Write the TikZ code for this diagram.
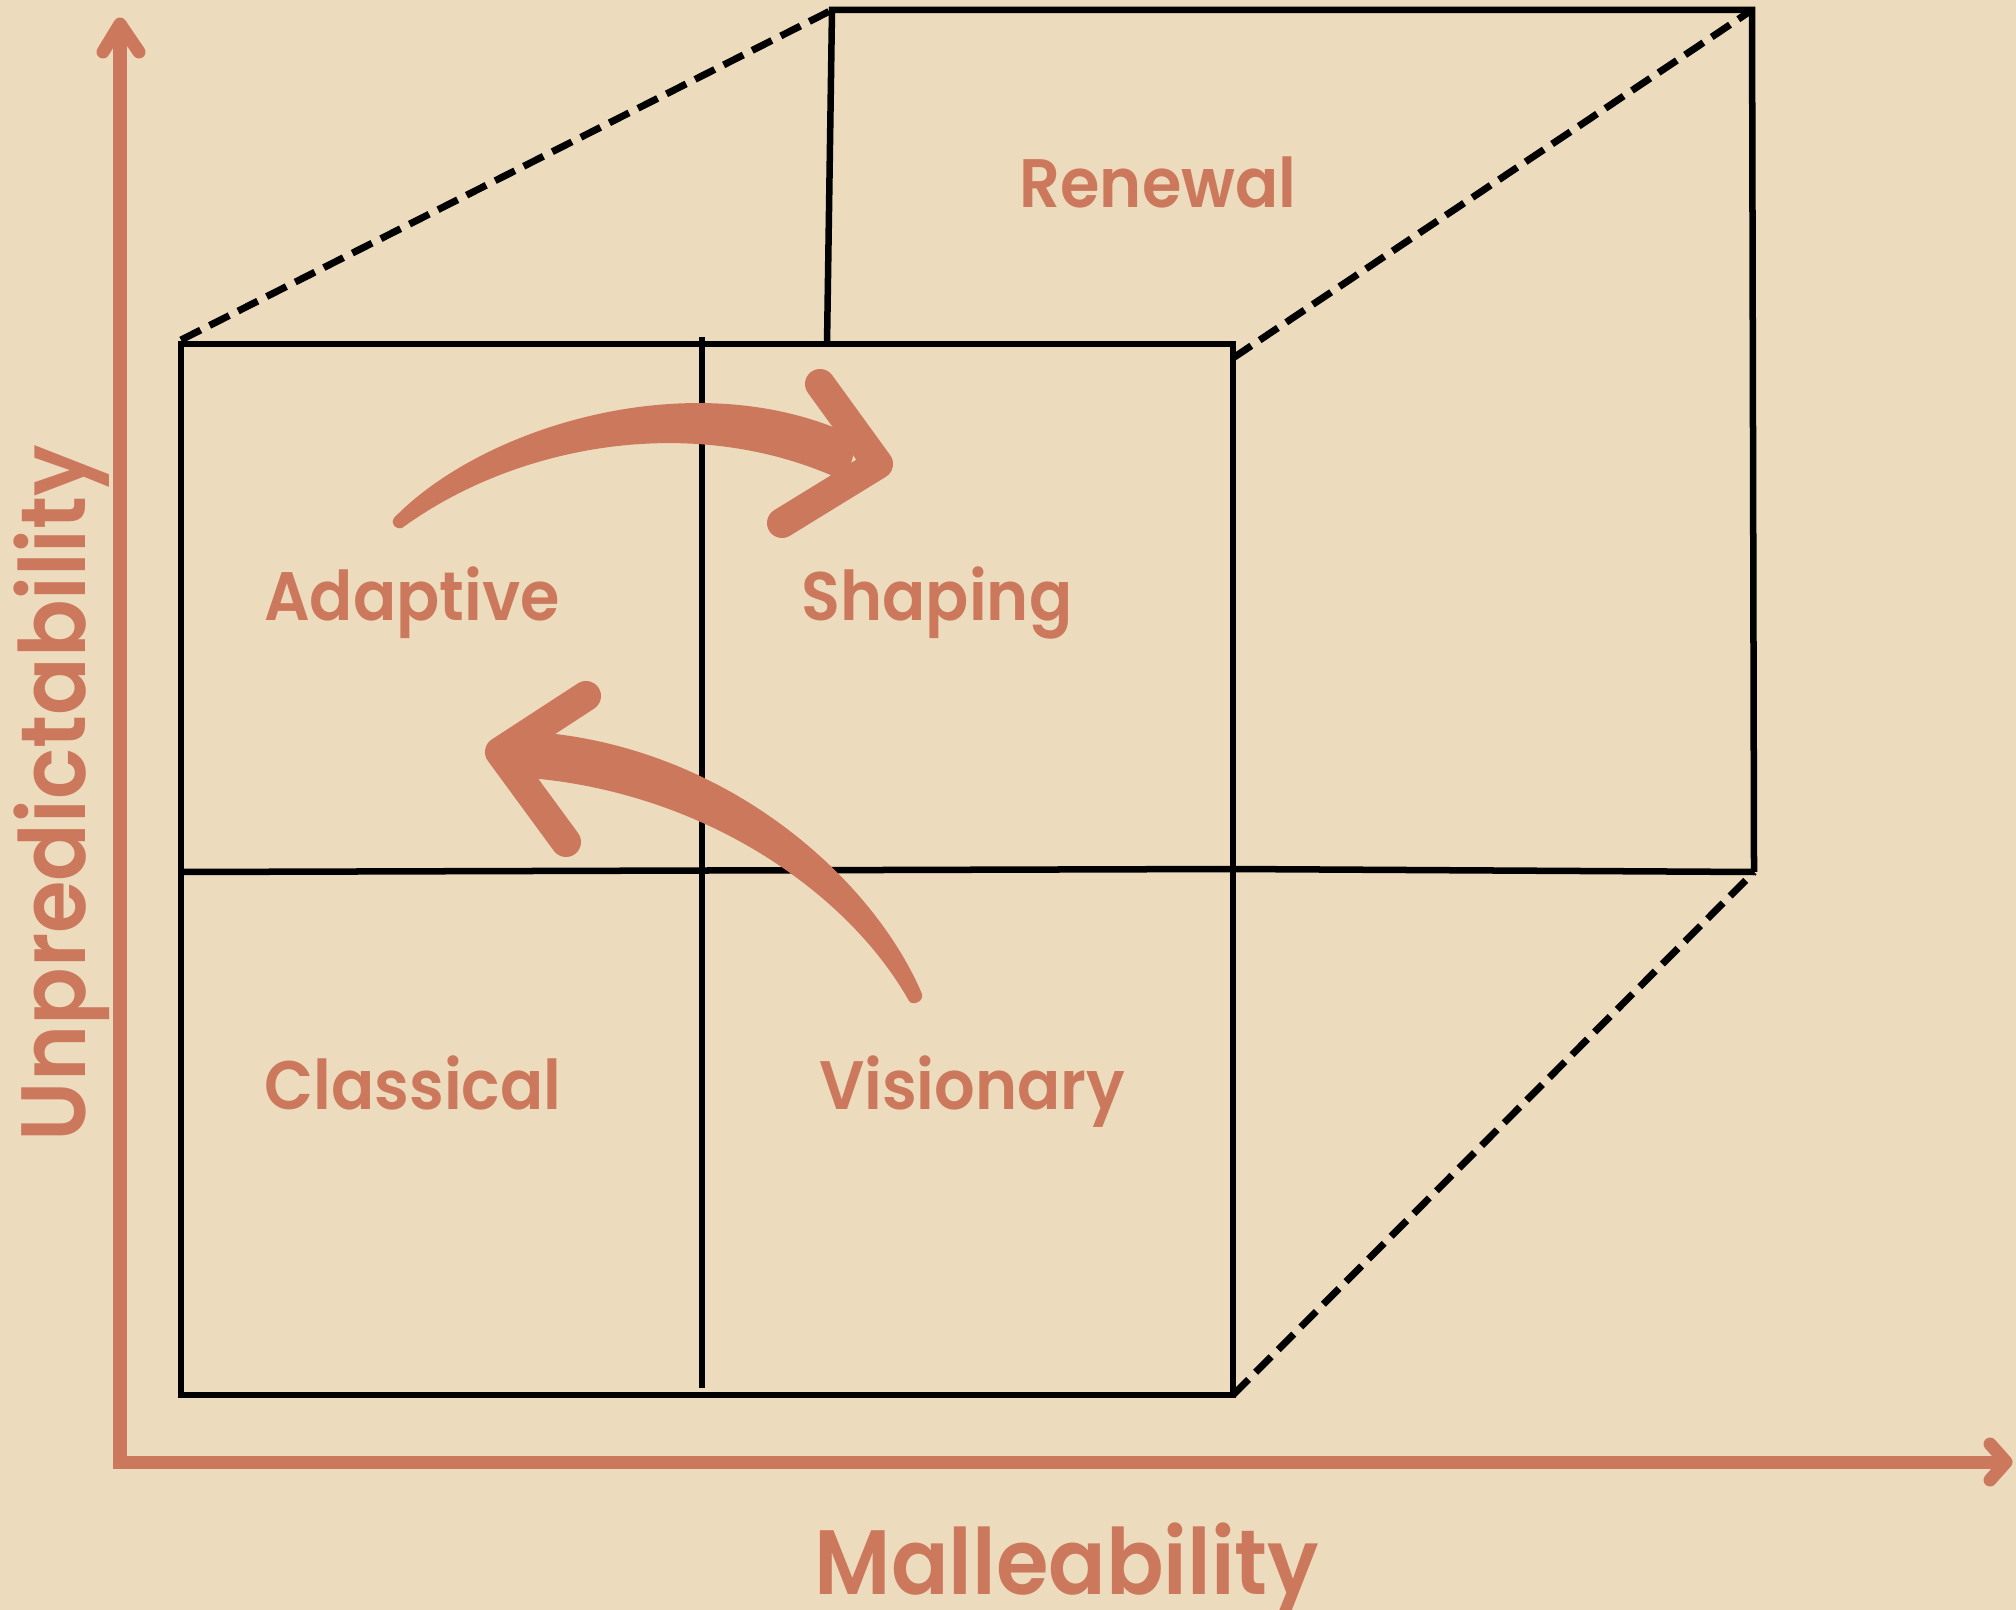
\documentclass[tikz,border=0pt]{standalone}
\usepackage{fontspec}
\setmainfont{Poppins}[BoldFont={Poppins SemiBold}, FakeStretch=0.93]
\usepackage{xcolor}
\usetikzlibrary{calc}

\definecolor{sand}{HTML}{ECDBBD}
\definecolor{clay}{HTML}{CC785C}

\tikzset{
  edge/.style={line width=0.065cm, black, line join=miter},
  hidden/.style={line width=0.07cm, black, dash pattern=on 0.22cm off 0.1cm},
  axis/.style={line width=0.13cm, clay, line join=miter},
  tip/.style={line width=0.13cm, clay, line cap=round, line join=round},
  wing/.style={line width=0.3cm, clay, line cap=round, line join=round},
  quad/.style={text=clay, font=\bfseries\fontsize{19.5}{22}\selectfont, anchor=base, inner sep=0pt},
  axislabel/.style={text=clay, font=\bfseries\fontsize{26}{30}\selectfont, anchor=base, inner sep=0pt}
}

\begin{document}
\begin{tikzpicture}[x=0.01cm, y=-0.01cm]

% Background
\fill[sand] (0,0) rectangle (2016,1610);
\useasboundingbox (0,0) rectangle (2016,1610);

% Points
\coordinate (A) at (181,344);
\coordinate (B) at (1233,344);
\coordinate (C) at (1233,1395);
\coordinate (D) at (181,1395);
\coordinate (E) at (832,10);
\coordinate (F) at (1752,10);
\coordinate (G) at (1754,872);
\coordinate (H) at (827,344);
\coordinate (M) at (702,337);
\coordinate (N) at (702,1388);
\coordinate (P) at (181,872);
\coordinate (Q) at (1233,869);
\coordinate (B2) at (1233,358);
\coordinate (A2) at (181,340);

% Axes
\coordinate (O) at (120,1462);
\coordinate (Ytop) at (120,24);
\coordinate (Xend) at (2006,1462);
\draw[axis] (Ytop) -- (O) -- (Xend);
\draw[tip] (103,52) -- (Ytop) -- (139,52);
\draw[tip] (1990,1444) -- (Xend) -- (1990,1480);

% Front square
\draw[edge] (A) rectangle (C);
\draw[edge] (M) -- (N);
\draw[edge] (P) -- (Q) -- (G);

% Back square
\draw[edge] (H) -- (E) -- (F) -- (G);

% Hidden edges
\draw[hidden] (A2) -- (E);
\draw[hidden] (B2) -- (F);
\draw[hidden] (C) -- (G);

% Curved arrows
\fill[clay] (394,518) .. controls (485,424) and (700,360) .. (858,438)
  -- (846,482) .. controls (700,412) and (520,442) .. (402,528)
  .. controls (396,530) and (390,524) .. (394,518) -- cycle;
\draw[wing] (820,384) -- (878,464) -- (782,523);

\fill[clay] (922,994) .. controls (872,876) and (720,740) .. (520,731)
  -- (516,777) .. controls (700,788) and (848,892) .. (909,1001)
  .. controls (912,1006) and (924,1002) .. (922,994) -- cycle;
\draw[wing] (586,696) -- (500,752) -- (566,842);

% Labeling quadrants
\node[quad] (renewal) at (1158,208) {Renewal};
\node[quad] (adaptive) at (412,621) {Adaptive};
\node[quad] (shaping) at (937,621) {Shaping};
\node[quad] (classical) at (413,1109) {Classical};
\node[quad] (visionary) at (972,1109) {Visionary};

% Labeling axes
\node[axislabel] (malleability) at (1067,1594) {Malleability};
\node[axislabel, rotate=90] (unpred) at (85,793) {Unpredictability};

\end{tikzpicture}
\end{document}
